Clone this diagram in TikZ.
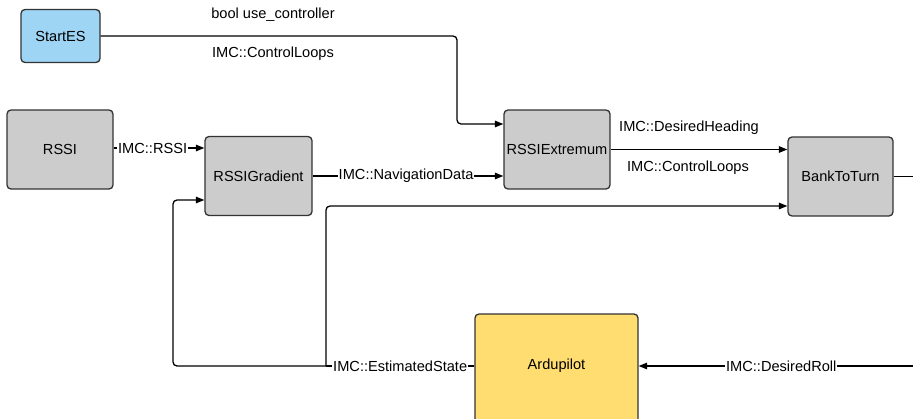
\documentclass[tikz,border=0pt]{standalone}
\usepackage{fontspec}
\setmainfont{Liberation Sans}
\usetikzlibrary{arrows.meta,calc}
\definecolor{boxgray}{HTML}{CCCCCC}
\definecolor{boxblue}{HTML}{9ED4F4}
\definecolor{boxyellow}{HTML}{FFDD71}
\definecolor{edgecol}{HTML}{333333}
\tikzset{
  blk/.style={draw=edgecol, line width=1.3pt, rounded corners=4pt, fill=boxgray,
    inner sep=0pt, font=\fontsize{14.6pt}{16pt}\selectfont},
  lbl/.style={fill=white, inner sep=1pt, font=\fontsize{14.6pt}{16pt}\selectfont},
  txt/.style={inner sep=1pt, font=\fontsize{14.6pt}{16pt}\selectfont},
  conn/.style={draw=black, line width=1.3pt},
  arr/.style={conn, -{Triangle[length=8.5pt,width=6.5pt]}},
}
\begin{document}
\begin{tikzpicture}[x=1pt,y=-1pt]
\useasboundingbox (0,0) rectangle (913,418);
% nodes
\node[blk, fill=boxblue, minimum width=79pt, minimum height=53pt] (startes) at (60.5,36) {StartES};
\node[blk, minimum width=106pt, minimum height=79pt] (rssi) at (60,149.5) {RSSI};
\node[blk, minimum width=107pt, minimum height=79pt] (grad) at (258.5,176) {RSSIGradient};
\node[blk, minimum width=106pt, minimum height=79pt] (ext) at (557,149.5) {RSSIExtremum};
\node[blk, minimum width=105pt, minimum height=79pt] (btt) at (840.5,176.5) {BankToTurn};
\node[blk, fill=boxyellow, minimum width=163pt, minimum height=112pt] (ardu) at (556.5,370) {};
\node[txt] (ardutext) at (556.5,366) {Ardupilot};
% coordinates
\coordinate (c1) at (457,124);
\coordinate (outR) at (913,176.5);
\coordinate (inR) at (913,366);
\coordinate (j) at (326,366);
\coordinate (cL) at (173,366);
\coordinate (cL2) at (173,200);
\coordinate (cB) at (326,206);
% StartES -> RSSIExtremum
\draw[arr, rounded corners=4pt] (startes.east) -| (c1) -- (c1 -| ext.west);
\node[txt] (l1) at (273,15) {bool use\_controller};
\node[txt] (l2) at (273,54) {IMC::ControlLoops};
% RSSI -> RSSIGradient
\draw[arr] (rssi.east |- 0,148) -- node[lbl, pos=0.43] (l3) {IMC::RSSI} (grad.west |- 0,148);
% RSSIGradient -> RSSIExtremum
\draw[arr] (grad.east) -- node[lbl, pos=0.49] (l4) {IMC::NavigationData} (grad.east -| ext.west);
% RSSIExtremum -> BankToTurn
\draw[arr] (ext.east) -- (ext.east -| btt.west);
\node[txt] (l5) at (689,128) {IMC::DesiredHeading};
\node[txt] (l6) at (688,168) {IMC::ControlLoops};
% BankToTurn out
\draw[conn] (btt.east) -- (outR);
% DesiredRoll -> Ardupilot
\draw[arr] (inR) -- node[lbl, pos=0.48] (l7) {IMC::DesiredRoll} (inR -| ardu.east);
% EstimatedState
\draw[conn] (j -| ardu.west) -- node[lbl, pos=0.50] (l8) {IMC::EstimatedState} (j);
\draw[arr, rounded corners=4pt] (j) -- (cL) -- (cL2) -- (cL2 -| grad.west);
\draw[arr, rounded corners=4pt] (j) -- (cB) -- (cB -| btt.west);
\end{tikzpicture}
\end{document}
